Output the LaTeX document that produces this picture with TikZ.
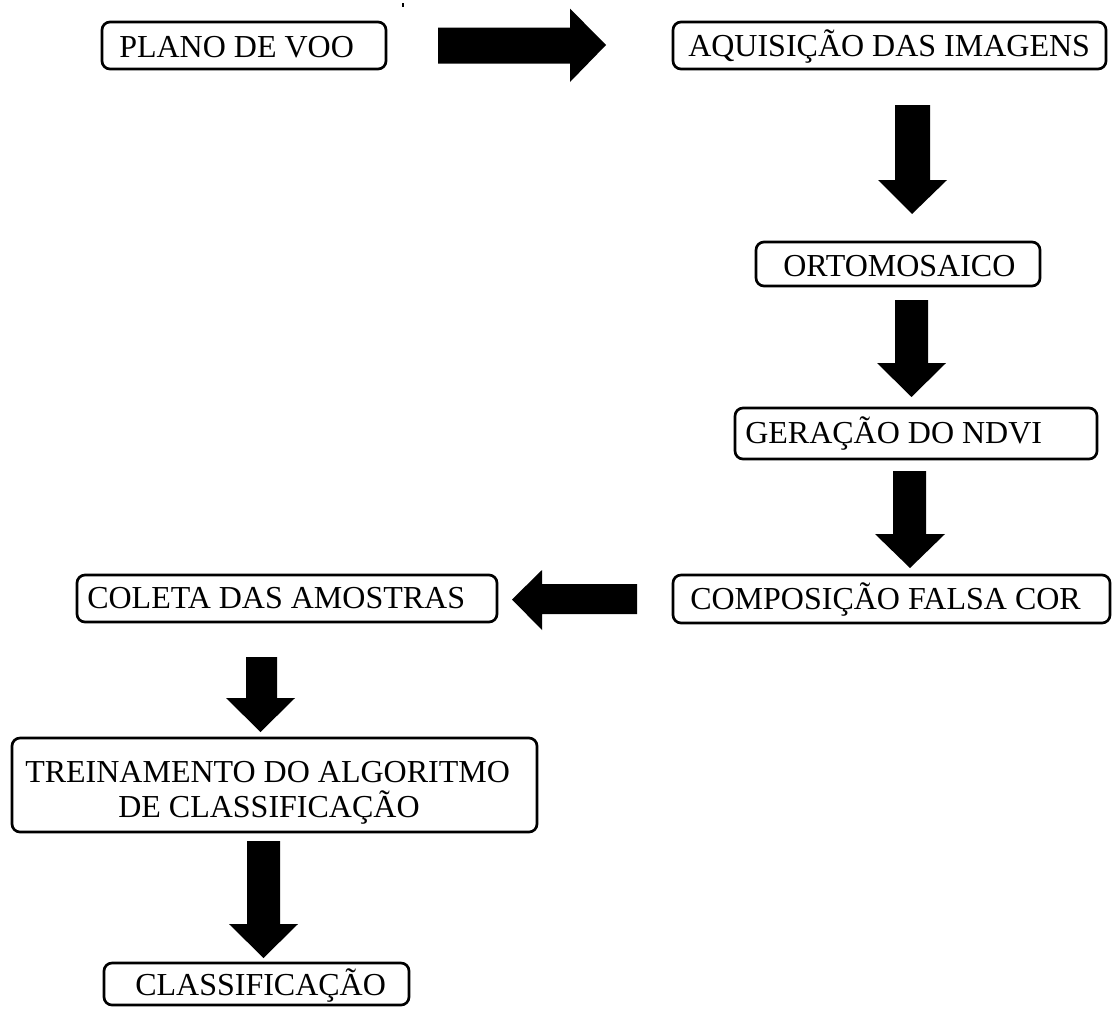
\documentclass[tikz,border=0pt]{standalone}
\usepackage{fontspec}
\setmainfont{Liberation Serif}
\begin{document}
\begin{tikzpicture}[x=0.75pt,y=-0.75pt,
  box/.style={draw=black,line width=2pt,rounded corners=6pt,fill=white,inner sep=0pt},
  txt/.style={anchor=base west,inner sep=0pt,font=\fontsize{24}{27}\selectfont},
  blk/.style={fill=black,draw=none}]
\useasboundingbox (0,0) rectangle (1113,1010);
% boxes
\node[box,minimum width=284*0.75pt,minimum height=47*0.75pt] (plano) at (244,45.5) {};
\node[box,minimum width=433*0.75pt,minimum height=47*0.75pt] (aquis) at (889.5,45.5) {};
\node[box,minimum width=284*0.75pt,minimum height=44*0.75pt] (orto) at (898,264) {};
\node[box,minimum width=362*0.75pt,minimum height=51*0.75pt] (ndvi) at (916,433.5) {};
\node[box,minimum width=437*0.75pt,minimum height=48*0.75pt] (comp) at (891.5,599) {};
\node[box,minimum width=420*0.75pt,minimum height=47*0.75pt] (coleta) at (287,598.5) {};
\node[box,minimum width=525*0.75pt,minimum height=94*0.75pt] (trein) at (274.5,785) {};
\node[box,minimum width=305*0.75pt,minimum height=42*0.75pt] (classif) at (256.5,984) {};
% texts
\node[txt] (plano-t) at (119,57) {PLANO DE VOO};
\node[txt] (aquis-t) at (688,56) {AQUISIÇÃO DAS IMAGENS};
\node[txt] (orto-t) at (783,276) {ORTOMOSAICO};
\node[txt] (ndvi-t) at (745,443) {GERAÇÃO DO NDVI};
\node[txt] (comp-t) at (690,609) {COMPOSIÇÃO FALSA COR};
\node[txt] (coleta-t) at (87,608) {COLETA DAS AMOSTRAS};
\node[txt] (trein-t1) at (25,782) {TREINAMENTO DO ALGORITMO};
\node[txt] (trein-t2) at (118,817) {DE CLASSIFICAÇÃO};
\node[txt] (classif-t) at (135,995) {CLASSIFICAÇÃO};
% block arrows
\fill[blk] (438,27.5) -- (570,27.5) -- (570,8.6) -- (606,45) -- (570,82) -- (570,63.7) -- (438,63.7) -- cycle;
\fill[blk] (895,105) -- (930,105) -- (930,180) -- (947,180) -- (912,214) -- (878,180) -- (895,180) -- cycle;
\fill[blk] (895,300) -- (928,300) -- (928,363) -- (946,363) -- (911.5,397) -- (877,363) -- (895,363) -- cycle;
\fill[blk] (893,471) -- (926,471) -- (926,534) -- (945,534) -- (910,568) -- (875,534) -- (893,534) -- cycle;
\fill[blk] (637,584) -- (542,584) -- (542,570) -- (512,599.5) -- (542,630) -- (542,614) -- (637,614) -- cycle;
\fill[blk] (246,657) -- (277,657) -- (277,698) -- (295,698) -- (260.5,732) -- (226,698) -- (246,698) -- cycle;
\fill[blk] (247,841) -- (280,841) -- (280,924) -- (298,924) -- (263.5,958) -- (229,924) -- (247,924) -- cycle;
% small tick
\draw[line width=0.8pt] (403,3) -- (403,7);
\end{tikzpicture}
\end{document}
